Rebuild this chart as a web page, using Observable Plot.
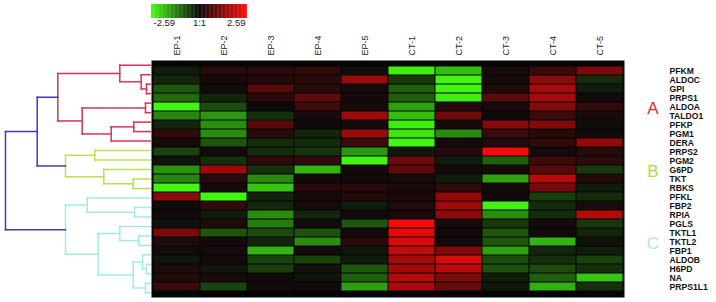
<!DOCTYPE html>
<html><head><meta charset="utf-8">
<script src="https://cdn.jsdelivr.net/npm/d3@7"></script>
<script src="https://cdn.jsdelivr.net/npm/@observablehq/plot@0.6"></script>
<style>
html,body{margin:0;padding:0;background:#fff;}
#chart{position:relative;width:716px;height:302px;overflow:hidden;font-family:"Liberation Sans",Arial,sans-serif;}
#chart .slot{position:absolute;}
</style></head><body><div id="chart">
<div class="slot" id="dendro" style="left:0;top:0"></div>
<div class="slot" id="heat" style="left:151px;top:0"></div>
<div class="slot" id="legend" style="left:151px;top:0"></div>
</div>
<script>
const samples = ["EP-1","EP-2","EP-3","EP-4","EP-5","CT-1","CT-2","CT-3","CT-4","CT-5"];
const genes = ["PFKM","ALDOC","GPI","PRPS1","ALDOA","TALDO1","PFKP","PGM1","DERA","PRPS2","PGM2","G6PD","TKT","RBKS","PFKL","FBP2","RPIA","PGLS","TKTL1","TKTL2","FBP1","ALDOB","H6PD","NA","PRPS1L1"];
const values = [
  [-0.2, 0.3, 0.3, 0.35,-0.05,-2.4,-1.9, 0.1, 0.5, 1.2],
  [-0.3, 0.1, 0.25, 0.3, 1.5,-0.5,-2.5, 0.1, 1.35,-0.35],
  [-0.8, 0.05, 0.8, 0.3, 0.1,-0.9,-2.5, 0.2, 1.65,-0.2],
  [-1.0,-0.3, 0.3, 0.9, 0.1,-0.9,-2.4, 0.85, 1.65, 0.05],
  [-2.5,-0.7, 0.0, 0.55, 0.1,-1.6, 0.25, 0.1, 1.3, 0.4],
  [-1.3,-1.5,-0.4, 0.15, 1.55,-1.9, 1.05, 0.05, 0.5, 0.15],
  [-0.3,-1.4, 0.8, 0.05, 0.1,-2.4, 0.1, 1.3, 1.25,-0.05],
  [ 0.35,-1.4, 0.3,-0.3, 1.5,-2.3,-1.35, 0.5, 0.3, 0.05],
  [ 0.1,-0.8,-0.35,-0.35, 0.5,-2.5, 0.1, 0.2, 0.4, 1.45],
  [-0.6, 0.05,-0.35,-0.45,-1.5,-0.15, 0.25, 2.5, 0.05, 0.3],
  [-0.1,-0.4, 0.35, 0.4,-2.5, 1.0,-0.2,-0.9, 0.55, 0.35],
  [-1.45, 1.55,-0.4,-1.8, 0.05, 0.9, 0.05, 0.1, 0.8,-0.5],
  [-1.3, 0.3,-1.35, 0.05, 0.05, 0.15,-0.2,-1.6, 1.85, 0.25],
  [-2.5, 0.1,-2.0, 0.3, 0.3, 0.15, 0.4, 0.1, 1.15,-0.2],
  [ 1.35,-2.5,-0.25, 0.1, 0.2, 0.15, 1.45, 0.05,-0.55,-0.35],
  [ 0.05, 0.4,-0.3, 0.1,-0.2, 0.2, 1.55,-2.45,-0.35, 0.15],
  [ 0.05,-0.2,-1.4,-0.3, 0.05, 0.15, 1.4,-1.4,-0.35, 1.8],
  [-0.1, 0.2,-1.2, 0.05,-0.8, 2.5, 0.1,-0.5, 0.05,-0.5],
  [ 1.2,-0.8,-0.7,-0.75, 0.05, 2.3, 0.05,-0.8, 0.05,-0.3],
  [ 0.2, 0.05,-0.3,-1.4, 0.3, 2.2, 0.05,-0.8,-1.8,-0.1],
  [ 0.05, 0.1,-1.8, 0.05,-0.15, 1.95, 1.25,-1.6,-0.3,-0.2],
  [-0.15, 0.1,-0.6,-0.6,-0.2, 1.65, 2.2,-0.7,-0.4,-0.6],
  [ 0.2,-0.15,-0.55,-0.1,-0.8, 1.6, 1.85,-0.75,-0.7,-0.4],
  [ 0.2, 0.15, 0.05,-0.1,-0.9, 1.75, 1.2,-0.2,-0.9,-2.0],
  [ 0.45,-0.6, 0.05, 0.05,-1.6, 1.7, 0.95,-0.15,-1.75,-0.4]
];
const groupNames = ["A","B","C"];
const groupFirst = ["PFKM","PRPS2","PFKL"];
const groupLast = ["DERA","RBKS","PRPS1L1"];
const groupMid = ["ALDOA","G6PD","TKTL2"];
const groupColors = ["#ff1c1c","#a8e63a","#a6ece8"];
const groupTextColors = ["#ee2a2a","#a8e040","#aee8ec"];
// dendrogram merges: [node, left child, right child, merge height, cluster]
const merges = [
  ["a1b","GPI","PRPS1",5,"A"],
  ["a1a","ALDOC","a1b",10.3,"A"],
  ["a1","PFKM","a1a",31.7,"A"],
  ["a2a","ALDOA","TALDO1",6,"A"],
  ["a2b1","PFKP","PGM1",17.7,"A"],
  ["a2b","a2b1","DERA",40.3,"A"],
  ["a2","a2a","a2b",69.3,"A"],
  ["A","a1","a2",93.7,"A"],
  ["b1","PRPS2","PGM2",56.7,"B"],
  ["b2a","TKT","RBKS",18.3,"B"],
  ["b2","G6PD","b2a",47.7,"B"],
  ["B","b1","b2",86,"B"],
  ["c1a","FBP2","RPIA",17,"C"],
  ["c1","PFKL","c1a",64.3,"C"],
  ["c2a1","TKTL1","TKTL2",12.7,"C"],
  ["c2a","PGLS","c2a1",31.7,"C"],
  ["c2b1a","ALDOB","H6PD",5,"C"],
  ["c2b1","FBP1","c2b1a",9,"C"],
  ["c2b2","NA","PRPS1L1",6,"C"],
  ["c2b","c2b1","c2b2",18.3,"C"],
  ["c2","c2a","c2b",53.3,"C"],
  ["C","c1","c2",86,"C"],
  ["AB","A","B",114.3,"root"],
  ["root","AB","C",146,"root"]
];
const clusterKeys = ["root","A","B","C"];
const clusterColors = ["#3b3bb8","#dc3252","#b6e44c","#a0ece0"];
const legendTicks = [-2.59, 0, 2.59];
const legendLabels = ["-2.59","1:1","2.59"];

const font = "'Liberation Sans', Arial, sans-serif";
const colorScale = {type:"linear", domain:[-2.59,0,2.59], range:["#44ff12","#0d0a0b","#ff0a0a"], clamp:true};

// heatmap table
const table = genes.flatMap((g,i)=>samples.map((s,j)=>({gene:g, sample:s, value:values[i][j]})));

const heat = Plot.plot({
  width:565, height:302, marginLeft:0, marginRight:92, marginTop:60, marginBottom:5,
  x:{domain:samples, padding:0, axis:null},
  y:{domain:genes, padding:0, axis:null},
  color:colorScale,
  style:{fontFamily:font, background:"transparent", color:"#111", overflow:"visible"},
  marks:[
    Plot.frame({fill:"#050505"}),
    Plot.cell(table,{x:"sample", y:"gene", fill:"value", inset:0.5}),
    Plot.axisX({anchor:"top", label:null, tickRotate:-90, tickSize:0, tickPadding:5, fontSize:9, fill:"#222"}),
    Plot.axisY({anchor:"right", label:null, tickSize:0, tickPadding:45, fontSize:8.6, fontWeight:"bold", fill:"#111"}),
    ...groupNames.map((g,i)=>Plot.ruleX([i], {y1:()=>groupFirst[i], y2:()=>groupLast[i], stroke:groupColors[i], strokeWidth:9, dx:245, insetTop:1.2, insetBottom:1.2})),
    ...groupNames.map((g,i)=>Plot.text([i], {y:()=>groupMid[i], text:()=>g, fill:groupTextColors[i], fontSize:17, dx:265, dy:2}))
  ]
});
document.getElementById("heat").appendChild(heat);

// dendrogram
const pos = new Map(genes.map((g,i)=>[g,{y:i,h:0}]));
const segs = [];
for (const [id,l,r,h,c] of merges) {
  const L = pos.get(l), R = pos.get(r);
  segs.push({x1:h, y1:L.y, x2:h, y2:R.y, c});
  segs.push({x1:L.h, y1:L.y, x2:h, y2:L.y, c});
  segs.push({x1:R.h, y1:R.y, x2:h, y2:R.y, c});
  pos.set(id, {y:(L.y+R.y)/2, h});
}
const dendro = Plot.plot({
  width:151, height:302, marginLeft:0, marginRight:0, marginTop:60, marginBottom:5,
  x:{domain:[151,0], range:[0,151], axis:null},
  y:{domain:[-0.5,24.5], range:[60,297], axis:null},
  color:{domain:clusterKeys, range:clusterColors},
  style:{background:"transparent"},
  marks:[
    Plot.link(segs,{x1:"x1", y1:"y1", x2:"x2", y2:"y2", stroke:"c", strokeWidth:1.5, strokeLinecap:"square"})
  ]
});
document.getElementById("dendro").appendChild(dendro);

// colour legend
const nSteps = 120;
const stepW = 5.18/nSteps;
const ramp = d3.range(nSteps).map(i=>-2.59 + i*stepW);
const legend = Plot.plot({
  width:96, height:30, marginLeft:0, marginRight:0, marginTop:4, marginBottom:12,
  x:{domain:[-2.59,2.59], axis:null},
  y:{domain:[0,1], axis:null},
  color:colorScale,
  style:{fontFamily:font, background:"transparent", overflow:"visible"},
  marks:[
    Plot.rect(ramp,{x1:d=>d, x2:d=>Math.min(d+stepW*1.5,2.59), y1:0, y2:1, fill:d=>d+stepW/2}),
    Plot.text([0],{x:()=>legendTicks[0], text:()=>legendLabels[0], frameAnchor:"bottom", textAnchor:"start", dx:2, dy:7, fontSize:9.5, fill:"#222"}),
    Plot.text([1],{x:()=>legendTicks[1], text:()=>legendLabels[1], frameAnchor:"bottom", textAnchor:"middle", dy:7, fontSize:9.5, fill:"#222"}),
    Plot.text([2],{x:()=>legendTicks[2], text:()=>legendLabels[2], frameAnchor:"bottom", textAnchor:"end", dx:-2, dy:7, fontSize:9.5, fill:"#222"})
  ]
});
document.getElementById("legend").appendChild(legend);
</script>
</body></html>
